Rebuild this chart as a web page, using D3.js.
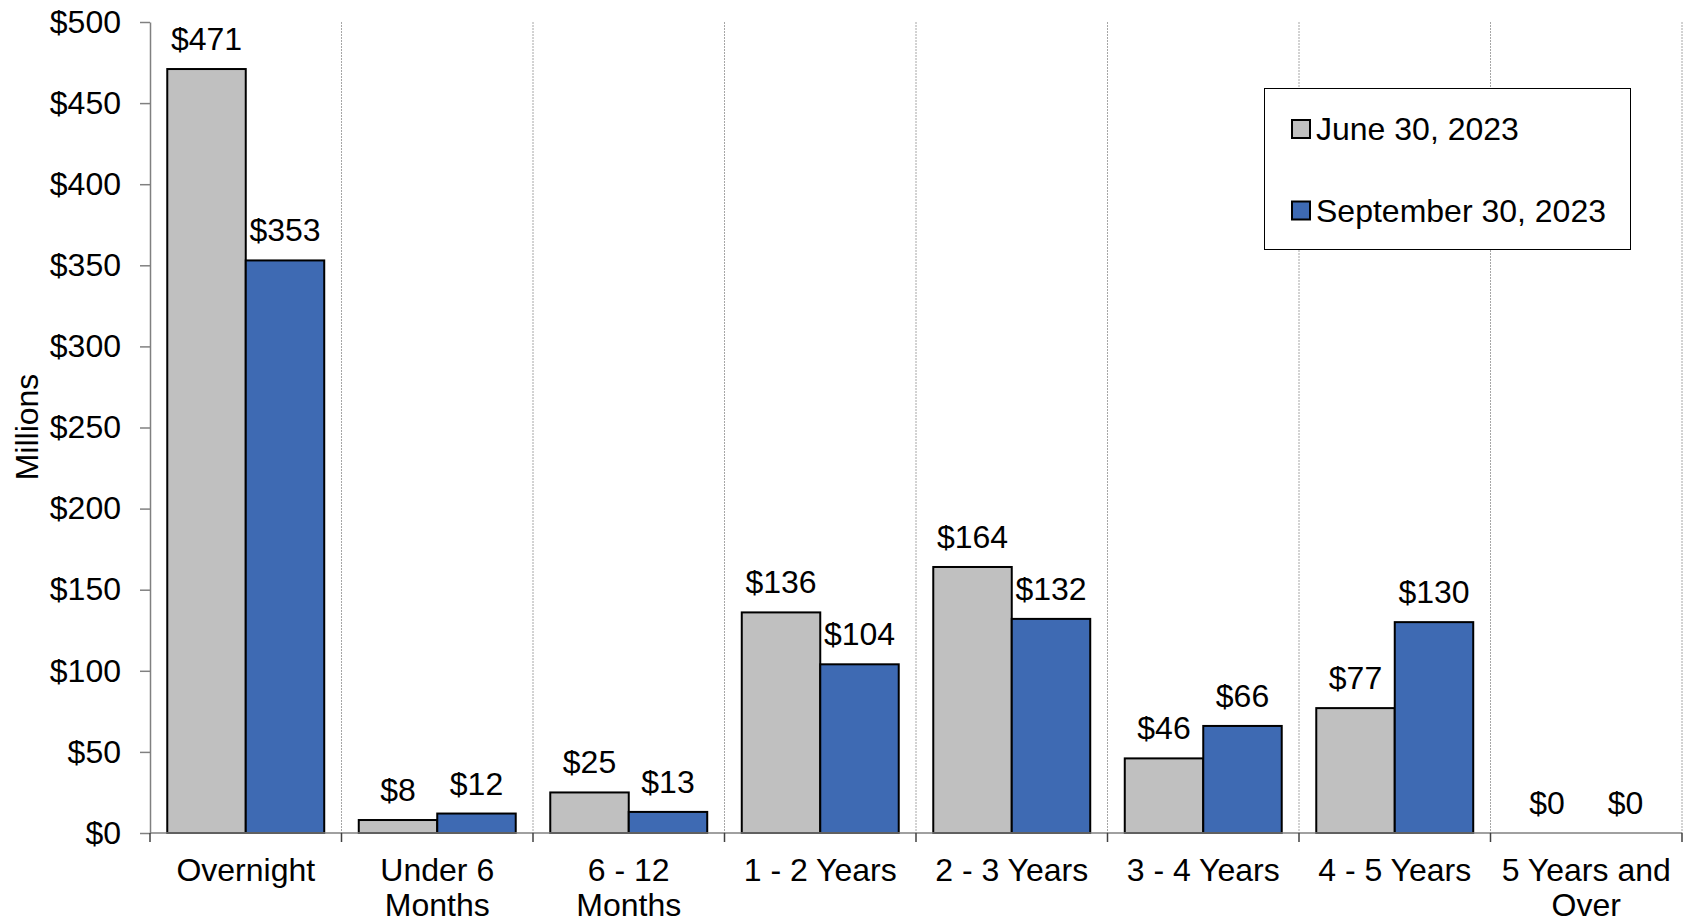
<!DOCTYPE html>
<html>
<head>
<meta charset="utf-8">
<script src="https://cdn.jsdelivr.net/npm/d3@7"></script>
<style>
  html, body { margin: 0; padding: 0; background: #fff; }
  svg { display: block; }
  text { font-family: "Liberation Sans", Arial, sans-serif; fill: #000; }
</style>
</head>
<body>
<svg id="chart" width="1686" height="924"></svg>
<script>
// Maturity buckets (label lines) and balances in millions
const categories = [
  ["Overnight"],
  ["Under 6", "Months"],
  ["6 - 12", "Months"],
  ["1 - 2 Years"],
  ["2 - 3 Years"],
  ["3 - 4 Years"],
  ["4 - 5 Years"],
  ["5 Years and", "Over"]
];
const seriesNames = ["June 30, 2023", "September 30, 2023"];
const june2023 = [471, 8, 25, 136, 164, 46, 77, 0];
const sept2023 = [353, 12, 13, 104, 132, 66, 130, 0];
const yTicks = [0, 50, 100, 150, 200, 250, 300, 350, 400, 450, 500];
const colors = ["#c0c0c0", "#3e6ab3"];

const svg = d3.select("#chart");
const plotLeft = 150, plotRight = 1682, plotTop = 22, plotBottom = 833;
const fontSize = 32;

const catKeys = categories.map((c, i) => i);
const x0 = d3.scaleBand().domain(catKeys).range([plotLeft, plotRight]).padding(0);
const x1 = d3.scaleBand().domain([0, 1]).range([0, x0.bandwidth()])
  .paddingInner(0).paddingOuter(0.22);
const y = d3.scaleLinear().domain([0, 500]).range([plotBottom, plotTop]);

// dashed vertical separators between buckets
const bounds = d3.range(1, categories.length + 1).map(i => plotLeft + i * x0.step());
svg.append("g").selectAll("line").data(bounds).join("line")
  .attr("x1", d => d).attr("x2", d => d)
  .attr("y1", plotTop).attr("y2", plotBottom)
  .attr("stroke", "#a6a6a6").attr("stroke-width", 1)
  .attr("stroke-dasharray", "2,1");

// bars
const rows = catKeys.map(i => ({ i, vals: [june2023[i], sept2023[i]] }));
const groups = svg.append("g").selectAll("g").data(rows).join("g")
  .attr("transform", d => `translate(${x0(d.i)},0)`);

groups.selectAll("rect").data(d => d.vals.map((v, s) => ({ v, s })).filter(e => e.v > 0))
  .join("rect")
  .attr("x", d => x1(d.s))
  .attr("y", d => y(d.v))
  .attr("width", x1.bandwidth())
  .attr("height", d => y(0) - y(d.v))
  .attr("fill", d => colors[d.s])
  .attr("stroke", "#000")
  .attr("stroke-width", 2);

// value labels
groups.selectAll("text.val").data(d => d.vals.map((v, s) => ({ v, s })))
  .join("text").attr("class", "val")
  .attr("x", d => x1(d.s) + x1.bandwidth() / 2)
  .attr("y", d => y(d.v) - 19)
  .attr("text-anchor", "middle")
  .style("font-size", fontSize + "px")
  .text(d => "$" + d.v);

// y axis
const yAxis = svg.append("g").attr("transform", `translate(${plotLeft},0)`)
  .call(d3.axisLeft(y).tickValues(yTicks).tickFormat(d => "$" + d)
    .tickSize(10).tickSizeOuter(0).tickPadding(19));
yAxis.select(".domain").attr("stroke", "#808080").attr("stroke-width", 1.5);
yAxis.selectAll(".tick line").attr("stroke", "#808080").attr("stroke-width", 1.5);
yAxis.selectAll(".tick text").style("font-size", fontSize + "px")
  .style("font-family", '"Liberation Sans", Arial, sans-serif').attr("fill", "#000");

// x axis line and bucket boundary ticks
svg.append("line").attr("x1", plotLeft).attr("x2", plotRight)
  .attr("y1", plotBottom).attr("y2", plotBottom)
  .attr("stroke", "#808080").attr("stroke-width", 1.5);
const tickPos = d3.range(0, categories.length + 1).map(i => plotLeft + i * x0.step());
svg.append("g").selectAll("line").data(tickPos).join("line")
  .attr("x1", d => d).attr("x2", d => d)
  .attr("y1", plotBottom).attr("y2", plotBottom + 9)
  .attr("stroke", "#404040").attr("stroke-width", 1.5);

// category labels
const catLabels = svg.append("g").selectAll("text").data(rows).join("text")
  .attr("text-anchor", "middle")
  .style("font-size", fontSize + "px");
catLabels.each(function (d) {
  const cx = x0(d.i) + x0.bandwidth() / 2;
  d3.select(this).selectAll("tspan").data(categories[d.i]).join("tspan")
    .attr("x", cx)
    .attr("y", (t, k) => 881 + k * 35)
    .text(t => t);
});

// y axis title
svg.append("text")
  .attr("transform", "translate(38,427) rotate(-90)")
  .attr("text-anchor", "middle")
  .style("font-size", fontSize + "px")
  .text("Millions");

// legend
const lg = svg.append("g");
lg.append("rect").attr("x", 1264.5).attr("y", 88.5).attr("width", 366).attr("height", 161)
  .attr("fill", "#fff").attr("stroke", "#000").attr("stroke-width", 1);
seriesNames.forEach((name, s) => {
  const cy = 129 + s * 81.5;
  lg.append("rect").attr("x", 1292).attr("y", cy - 9).attr("width", 18).attr("height", 18)
    .attr("fill", colors[s]).attr("stroke", "#000").attr("stroke-width", 2);
  lg.append("text").attr("x", 1316).attr("y", cy + 11)
    .style("font-size", fontSize + "px").text(name);
});
</script>
</body>
</html>
